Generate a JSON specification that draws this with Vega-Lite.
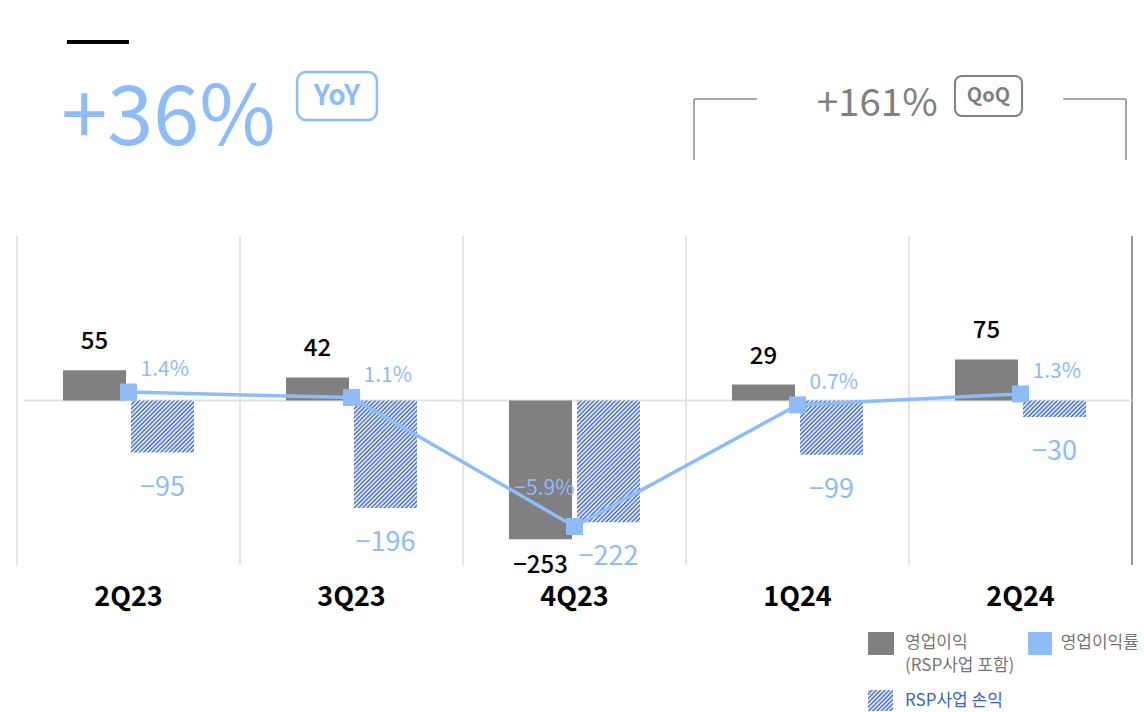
{
"$schema": "https://vega.github.io/schema/vega-lite/v6.json",
"usermeta": {"embedOptions": {"actions": false}},
"width": 1115, "height": 329,
"autosize": {"type": "none"},
"padding": {"left": 17, "top": 236, "right": 12, "bottom": 147},
"background": "white",
"config": {
  "view": {"stroke": null},
  "font": "Noto Sans CJK KR",
  "text": {"font": "Noto Sans CJK KR"},
  "axisX": {"domain": false, "ticks": false, "grid": false, "title": null, "labelFont": "Noto Sans CJK KR", "labelFontSize": 27, "labelFontWeight": "bold", "labelColor": "#000000", "labelPadding": 19, "labelAngle": 0}
},
"datasets": {
  "bars": [
    {"q": "2Q23", "series": "영업이익", "value": 55},
    {"q": "2Q23", "series": "RSP사업 손익", "value": -95},
    {"q": "3Q23", "series": "영업이익", "value": 42},
    {"q": "3Q23", "series": "RSP사업 손익", "value": -196},
    {"q": "4Q23", "series": "영업이익", "value": -253},
    {"q": "4Q23", "series": "RSP사업 손익", "value": -222},
    {"q": "1Q24", "series": "영업이익", "value": 29},
    {"q": "1Q24", "series": "RSP사업 손익", "value": -99},
    {"q": "2Q24", "series": "영업이익", "value": 75},
    {"q": "2Q24", "series": "RSP사업 손익", "value": -30}
  ],
  "margin": [
    {"q": "2Q23", "pct": 0.014},
    {"q": "3Q23", "pct": 0.011},
    {"q": "4Q23", "pct": -0.059},
    {"q": "1Q24", "pct": 0.007},
    {"q": "2Q24", "pct": 0.013}
  ]
},
"layer": [
{"layer": [
  {"data": {"name": "margin"},
   "mark": {"type": "rule", "color": "#dcdcdc", "strokeWidth": 1.5},
   "encoding": {
     "x": {"field": "q", "type": "nominal", "bandPosition": 0, "scale": {"domain": ["2Q23","3Q23","4Q23","1Q24","2Q24"], "paddingInner": 0, "paddingOuter": 0}},
     "y": {"datum": 300, "type": "quantitative", "scale": {"domain": [-300, 300], "nice": false}, "axis": null},
     "y2": {"datum": -300}
   }},
  {"data": {"values": [{}]},
   "mark": {"type": "rule", "color": "#9a9a9a", "strokeWidth": 2},
   "encoding": {
     "x": {"datum": "2Q24", "type": "nominal", "bandPosition": 1},
     "y": {"datum": 300, "type": "quantitative", "axis": null},
     "y2": {"datum": -300}
   }},
  {"data": {"values": [{}]},
   "mark": {"type": "rule", "color": "#e2e2e2", "strokeWidth": 2},
   "encoding": {
     "x": {"datum": "2Q23", "type": "nominal", "bandPosition": 0.031},
     "x2": {"datum": "2Q24", "bandPosition": 1},
     "y": {"datum": 0, "type": "quantitative", "axis": null}
   }},
  {"data": {"name": "bars"},
   "transform": [{"filter": "datum.series === '영업이익'"}],
   "mark": {"type": "bar", "color": "#808080"},
   "encoding": {
     "x": {"field": "q", "type": "nominal"},
     "xOffset": {"field": "series", "type": "nominal", "scale": {"domain": ["영업이익", "RSP사업 손익"], "paddingInner": 0.0735, "paddingOuter": 0.6765}},
     "y": {"field": "value", "type": "quantitative", "axis": null},
     "y2": {"datum": 0}
   }},
  {"data": {"name": "bars"},
   "transform": [{"filter": "datum.series === 'RSP사업 손익'"}],
   "mark": {"type": "bar"},
   "encoding": {
     "x": {"field": "q", "type": "nominal"},
     "xOffset": {"field": "series", "type": "nominal"},
     "y": {"field": "value", "type": "quantitative", "axis": null},
     "y2": {"datum": 0},
     "fill": {
       "condition": [
         {"test": "datum.q === '2Q23'", "value": {"gradient": "linear", "x1": 0, "y1": 0, "x2": 1.743, "y2": 1.441, "stops": [
{"offset":0,"color":"#3a66c8"},{"offset":0.0116,"color":"#fff"},{"offset":0.0233,"color":"#3a66c8"},{"offset":0.0349,"color":"#fff"},{"offset":0.0465,"color":"#3a66c8"},{"offset":0.0581,"color":"#fff"},{"offset":0.0698,"color":"#3a66c8"},{"offset":0.0814,"color":"#fff"},{"offset":0.093,"color":"#3a66c8"},{"offset":0.1047,"color":"#fff"},{"offset":0.1163,"color":"#3a66c8"},{"offset":0.1279,"color":"#fff"},{"offset":0.1395,"color":"#3a66c8"},{"offset":0.1512,"color":"#fff"},{"offset":0.1628,"color":"#3a66c8"},{"offset":0.1744,"color":"#fff"},{"offset":0.186,"color":"#3a66c8"},{"offset":0.1977,"color":"#fff"},{"offset":0.2093,"color":"#3a66c8"},{"offset":0.2209,"color":"#fff"},{"offset":0.2326,"color":"#3a66c8"},{"offset":0.2442,"color":"#fff"},{"offset":0.2558,"color":"#3a66c8"},{"offset":0.2674,"color":"#fff"},{"offset":0.2791,"color":"#3a66c8"},
{"offset":0.2907,"color":"#fff"},{"offset":0.3023,"color":"#3a66c8"},{"offset":0.314,"color":"#fff"},{"offset":0.3256,"color":"#3a66c8"},{"offset":0.3372,"color":"#fff"},{"offset":0.3488,"color":"#3a66c8"},{"offset":0.3605,"color":"#fff"},{"offset":0.3721,"color":"#3a66c8"},{"offset":0.3837,"color":"#fff"},{"offset":0.3953,"color":"#3a66c8"},{"offset":0.407,"color":"#fff"},{"offset":0.4186,"color":"#3a66c8"},{"offset":0.4302,"color":"#fff"},{"offset":0.4419,"color":"#3a66c8"},{"offset":0.4535,"color":"#fff"},{"offset":0.4651,"color":"#3a66c8"},
{"offset":0.4767,"color":"#fff"},{"offset":0.4884,"color":"#3a66c8"},{"offset":0.5,"color":"#fff"},{"offset":0.5116,"color":"#3a66c8"},{"offset":0.5233,"color":"#fff"},{"offset":0.5349,"color":"#3a66c8"},{"offset":0.5465,"color":"#fff"},{"offset":0.5581,"color":"#3a66c8"},{"offset":0.5698,"color":"#fff"},{"offset":0.5814,"color":"#3a66c8"},{"offset":0.593,"color":"#fff"},{"offset":0.6047,"color":"#3a66c8"},{"offset":0.6163,"color":"#fff"},{"offset":0.6279,"color":"#3a66c8"},{"offset":0.6395,"color":"#fff"},{"offset":0.6512,"color":"#3a66c8"}
         ]}},
         {"test": "datum.q === '3Q23'", "value": {"gradient": "linear", "x1": 0, "y1": 0, "x2": 0.751, "y2": 1.2805, "stops": [
{"offset":0,"color":"#3a66c8"},{"offset":0.0116,"color":"#fff"},{"offset":0.0233,"color":"#3a66c8"},{"offset":0.0349,"color":"#fff"},{"offset":0.0465,"color":"#3a66c8"},{"offset":0.0581,"color":"#fff"},{"offset":0.0698,"color":"#3a66c8"},{"offset":0.0814,"color":"#fff"},{"offset":0.093,"color":"#3a66c8"},{"offset":0.1047,"color":"#fff"},{"offset":0.1163,"color":"#3a66c8"},{"offset":0.1279,"color":"#fff"},{"offset":0.1395,"color":"#3a66c8"},{"offset":0.1512,"color":"#fff"},{"offset":0.1628,"color":"#3a66c8"},{"offset":0.1744,"color":"#fff"},{"offset":0.186,"color":"#3a66c8"},{"offset":0.1977,"color":"#fff"},{"offset":0.2093,"color":"#3a66c8"},{"offset":0.2209,"color":"#fff"},{"offset":0.2326,"color":"#3a66c8"},{"offset":0.2442,"color":"#fff"},{"offset":0.2558,"color":"#3a66c8"},{"offset":0.2674,"color":"#fff"},{"offset":0.2791,"color":"#3a66c8"},
{"offset":0.2907,"color":"#fff"},{"offset":0.3023,"color":"#3a66c8"},{"offset":0.314,"color":"#fff"},{"offset":0.3256,"color":"#3a66c8"},{"offset":0.3372,"color":"#fff"},{"offset":0.3488,"color":"#3a66c8"},{"offset":0.3605,"color":"#fff"},{"offset":0.3721,"color":"#3a66c8"},{"offset":0.3837,"color":"#fff"},{"offset":0.3953,"color":"#3a66c8"},{"offset":0.407,"color":"#fff"},{"offset":0.4186,"color":"#3a66c8"},{"offset":0.4302,"color":"#fff"},{"offset":0.4419,"color":"#3a66c8"},{"offset":0.4535,"color":"#fff"},{"offset":0.4651,"color":"#3a66c8"},
{"offset":0.4767,"color":"#fff"},{"offset":0.4884,"color":"#3a66c8"},{"offset":0.5,"color":"#fff"},{"offset":0.5116,"color":"#3a66c8"},{"offset":0.5233,"color":"#fff"},{"offset":0.5349,"color":"#3a66c8"},{"offset":0.5465,"color":"#fff"},{"offset":0.5581,"color":"#3a66c8"},{"offset":0.5698,"color":"#fff"},{"offset":0.5814,"color":"#3a66c8"},{"offset":0.593,"color":"#fff"},{"offset":0.6047,"color":"#3a66c8"},{"offset":0.6163,"color":"#fff"},{"offset":0.6279,"color":"#3a66c8"},{"offset":0.6395,"color":"#fff"},{"offset":0.6512,"color":"#3a66c8"},
{"offset":0.6628,"color":"#fff"},{"offset":0.6744,"color":"#3a66c8"},{"offset":0.686,"color":"#fff"},{"offset":0.6977,"color":"#3a66c8"},{"offset":0.7093,"color":"#fff"},{"offset":0.7209,"color":"#3a66c8"},{"offset":0.7326,"color":"#fff"},{"offset":0.7442,"color":"#3a66c8"},{"offset":0.7558,"color":"#fff"},{"offset":0.7674,"color":"#3a66c8"},{"offset":0.7791,"color":"#fff"},{"offset":0.7907,"color":"#3a66c8"},{"offset":0.8023,"color":"#fff"},{"offset":0.814,"color":"#3a66c8"},{"offset":0.8256,"color":"#fff"},{"offset":0.8372,"color":"#3a66c8"},{"offset":0.8488,"color":"#fff"},{"offset":0.8605,"color":"#3a66c8"},{"offset":0.8721,"color":"#fff"},{"offset":0.8837,"color":"#3a66c8"},{"offset":0.8953,"color":"#fff"},{"offset":0.907,"color":"#3a66c8"},{"offset":0.9186,"color":"#fff"},{"offset":0.9302,"color":"#3a66c8"},{"offset":0.9419,"color":"#fff"},{"offset":0.9535,"color":"#3a66c8"}
         ]}},
         {"test": "datum.q === '4Q23'", "value": {"gradient": "linear", "x1": 0, "y1": 0, "x2": 0.62, "y2": 1.198, "stops": [
{"offset":0,"color":"#3a66c8"},{"offset":0.0116,"color":"#fff"},{"offset":0.0233,"color":"#3a66c8"},{"offset":0.0349,"color":"#fff"},{"offset":0.0465,"color":"#3a66c8"},{"offset":0.0581,"color":"#fff"},{"offset":0.0698,"color":"#3a66c8"},{"offset":0.0814,"color":"#fff"},{"offset":0.093,"color":"#3a66c8"},{"offset":0.1047,"color":"#fff"},{"offset":0.1163,"color":"#3a66c8"},{"offset":0.1279,"color":"#fff"},{"offset":0.1395,"color":"#3a66c8"},{"offset":0.1512,"color":"#fff"},{"offset":0.1628,"color":"#3a66c8"},{"offset":0.1744,"color":"#fff"},{"offset":0.186,"color":"#3a66c8"},{"offset":0.1977,"color":"#fff"},{"offset":0.2093,"color":"#3a66c8"},{"offset":0.2209,"color":"#fff"},{"offset":0.2326,"color":"#3a66c8"},{"offset":0.2442,"color":"#fff"},{"offset":0.2558,"color":"#3a66c8"},{"offset":0.2674,"color":"#fff"},{"offset":0.2791,"color":"#3a66c8"},
{"offset":0.2907,"color":"#fff"},{"offset":0.3023,"color":"#3a66c8"},{"offset":0.314,"color":"#fff"},{"offset":0.3256,"color":"#3a66c8"},{"offset":0.3372,"color":"#fff"},{"offset":0.3488,"color":"#3a66c8"},{"offset":0.3605,"color":"#fff"},{"offset":0.3721,"color":"#3a66c8"},{"offset":0.3837,"color":"#fff"},{"offset":0.3953,"color":"#3a66c8"},{"offset":0.407,"color":"#fff"},{"offset":0.4186,"color":"#3a66c8"},{"offset":0.4302,"color":"#fff"},{"offset":0.4419,"color":"#3a66c8"},{"offset":0.4535,"color":"#fff"},{"offset":0.4651,"color":"#3a66c8"},
{"offset":0.4767,"color":"#fff"},{"offset":0.4884,"color":"#3a66c8"},{"offset":0.5,"color":"#fff"},{"offset":0.5116,"color":"#3a66c8"},{"offset":0.5233,"color":"#fff"},{"offset":0.5349,"color":"#3a66c8"},{"offset":0.5465,"color":"#fff"},{"offset":0.5581,"color":"#3a66c8"},{"offset":0.5698,"color":"#fff"},{"offset":0.5814,"color":"#3a66c8"},{"offset":0.593,"color":"#fff"},{"offset":0.6047,"color":"#3a66c8"},{"offset":0.6163,"color":"#fff"},{"offset":0.6279,"color":"#3a66c8"},{"offset":0.6395,"color":"#fff"},{"offset":0.6512,"color":"#3a66c8"},
{"offset":0.6628,"color":"#fff"},{"offset":0.6744,"color":"#3a66c8"},{"offset":0.686,"color":"#fff"},{"offset":0.6977,"color":"#3a66c8"},{"offset":0.7093,"color":"#fff"},{"offset":0.7209,"color":"#3a66c8"},{"offset":0.7326,"color":"#fff"},{"offset":0.7442,"color":"#3a66c8"},{"offset":0.7558,"color":"#fff"},{"offset":0.7674,"color":"#3a66c8"},{"offset":0.7791,"color":"#fff"},{"offset":0.7907,"color":"#3a66c8"},{"offset":0.8023,"color":"#fff"},{"offset":0.814,"color":"#3a66c8"},{"offset":0.8256,"color":"#fff"},{"offset":0.8372,"color":"#3a66c8"},{"offset":0.8488,"color":"#fff"},{"offset":0.8605,"color":"#3a66c8"},{"offset":0.8721,"color":"#fff"},{"offset":0.8837,"color":"#3a66c8"},{"offset":0.8953,"color":"#fff"},{"offset":0.907,"color":"#3a66c8"},{"offset":0.9186,"color":"#fff"},{"offset":0.9302,"color":"#3a66c8"},{"offset":0.9419,"color":"#fff"},{"offset":0.9535,"color":"#3a66c8"},
{"offset":0.9651,"color":"#fff"},{"offset":0.9767,"color":"#3a66c8"},{"offset":0.9884,"color":"#fff"},{"offset":1,"color":"#3a66c8"}
         ]}},
         {"test": "datum.q === '1Q24'", "value": {"gradient": "linear", "x1": 0, "y1": 0, "x2": 1.684, "y2": 1.451, "stops": [
{"offset":0,"color":"#3a66c8"},{"offset":0.0116,"color":"#fff"},{"offset":0.0233,"color":"#3a66c8"},{"offset":0.0349,"color":"#fff"},{"offset":0.0465,"color":"#3a66c8"},{"offset":0.0581,"color":"#fff"},{"offset":0.0698,"color":"#3a66c8"},{"offset":0.0814,"color":"#fff"},{"offset":0.093,"color":"#3a66c8"},{"offset":0.1047,"color":"#fff"},{"offset":0.1163,"color":"#3a66c8"},{"offset":0.1279,"color":"#fff"},{"offset":0.1395,"color":"#3a66c8"},{"offset":0.1512,"color":"#fff"},{"offset":0.1628,"color":"#3a66c8"},{"offset":0.1744,"color":"#fff"},{"offset":0.186,"color":"#3a66c8"},{"offset":0.1977,"color":"#fff"},{"offset":0.2093,"color":"#3a66c8"},{"offset":0.2209,"color":"#fff"},{"offset":0.2326,"color":"#3a66c8"},{"offset":0.2442,"color":"#fff"},{"offset":0.2558,"color":"#3a66c8"},{"offset":0.2674,"color":"#fff"},{"offset":0.2791,"color":"#3a66c8"},
{"offset":0.2907,"color":"#fff"},{"offset":0.3023,"color":"#3a66c8"},{"offset":0.314,"color":"#fff"},{"offset":0.3256,"color":"#3a66c8"},{"offset":0.3372,"color":"#fff"},{"offset":0.3488,"color":"#3a66c8"},{"offset":0.3605,"color":"#fff"},{"offset":0.3721,"color":"#3a66c8"},{"offset":0.3837,"color":"#fff"},{"offset":0.3953,"color":"#3a66c8"},{"offset":0.407,"color":"#fff"},{"offset":0.4186,"color":"#3a66c8"},{"offset":0.4302,"color":"#fff"},{"offset":0.4419,"color":"#3a66c8"},{"offset":0.4535,"color":"#fff"},{"offset":0.4651,"color":"#3a66c8"},
{"offset":0.4767,"color":"#fff"},{"offset":0.4884,"color":"#3a66c8"},{"offset":0.5,"color":"#fff"},{"offset":0.5116,"color":"#3a66c8"},{"offset":0.5233,"color":"#fff"},{"offset":0.5349,"color":"#3a66c8"},{"offset":0.5465,"color":"#fff"},{"offset":0.5581,"color":"#3a66c8"},{"offset":0.5698,"color":"#fff"},{"offset":0.5814,"color":"#3a66c8"},{"offset":0.593,"color":"#fff"},{"offset":0.6047,"color":"#3a66c8"},{"offset":0.6163,"color":"#fff"},{"offset":0.6279,"color":"#3a66c8"},{"offset":0.6395,"color":"#fff"},{"offset":0.6512,"color":"#3a66c8"}
         ]}}
       ],
       "value": {"gradient": "linear", "x1": 0, "y1": 0, "x2": 2.748, "y2": 0.717, "stops": [
{"offset":0,"color":"#3a66c8"},{"offset":0.0116,"color":"#fff"},{"offset":0.0233,"color":"#3a66c8"},{"offset":0.0349,"color":"#fff"},{"offset":0.0465,"color":"#3a66c8"},{"offset":0.0581,"color":"#fff"},{"offset":0.0698,"color":"#3a66c8"},{"offset":0.0814,"color":"#fff"},{"offset":0.093,"color":"#3a66c8"},{"offset":0.1047,"color":"#fff"},{"offset":0.1163,"color":"#3a66c8"},{"offset":0.1279,"color":"#fff"},{"offset":0.1395,"color":"#3a66c8"},{"offset":0.1512,"color":"#fff"},{"offset":0.1628,"color":"#3a66c8"},{"offset":0.1744,"color":"#fff"},{"offset":0.186,"color":"#3a66c8"},{"offset":0.1977,"color":"#fff"},{"offset":0.2093,"color":"#3a66c8"},{"offset":0.2209,"color":"#fff"},{"offset":0.2326,"color":"#3a66c8"},{"offset":0.2442,"color":"#fff"},{"offset":0.2558,"color":"#3a66c8"},{"offset":0.2674,"color":"#fff"},{"offset":0.2791,"color":"#3a66c8"},
{"offset":0.2907,"color":"#fff"},{"offset":0.3023,"color":"#3a66c8"},{"offset":0.314,"color":"#fff"},{"offset":0.3256,"color":"#3a66c8"},{"offset":0.3372,"color":"#fff"},{"offset":0.3488,"color":"#3a66c8"},{"offset":0.3605,"color":"#fff"},{"offset":0.3721,"color":"#3a66c8"},{"offset":0.3837,"color":"#fff"},{"offset":0.3953,"color":"#3a66c8"},{"offset":0.407,"color":"#fff"},{"offset":0.4186,"color":"#3a66c8"},{"offset":0.4302,"color":"#fff"},{"offset":0.4419,"color":"#3a66c8"},{"offset":0.4535,"color":"#fff"},{"offset":0.4651,"color":"#3a66c8"}
       ]}
     }
   }},
  {"data": {"name": "bars"},
   "transform": [{"filter": "datum.series === '영업이익' && datum.value > 0"}],
   "mark": {"type": "text", "baseline": "alphabetic", "align": "center", "dy": -21, "fontSize": 24, "fontWeight": 500, "color": "#000000"},
   "encoding": {
     "x": {"field": "q", "type": "nominal"},
     "xOffset": {"field": "series", "type": "nominal"},
     "y": {"field": "value", "type": "quantitative", "axis": null},
     "text": {"field": "value", "type": "quantitative", "format": "d"}
   }},
  {"data": {"name": "bars"},
   "transform": [{"filter": "datum.series === '영업이익' && datum.value < 0"}],
   "mark": {"type": "text", "baseline": "alphabetic", "align": "center", "dy": 34, "fontSize": 24, "fontWeight": 500, "color": "#000000"},
   "encoding": {
     "x": {"field": "q", "type": "nominal"},
     "xOffset": {"field": "series", "type": "nominal"},
     "y": {"field": "value", "type": "quantitative", "axis": null},
     "text": {"field": "value", "type": "quantitative", "format": "d"}
   }},
  {"data": {"name": "bars"},
   "transform": [{"filter": "datum.series === 'RSP사업 손익'"}],
   "mark": {"type": "text", "baseline": "alphabetic", "align": "center", "dy": 43, "fontSize": 27, "fontWeight": 400, "color": "#8dbcf9"},
   "encoding": {
     "x": {"field": "q", "type": "nominal"},
     "xOffset": {"field": "series", "type": "nominal"},
     "y": {"field": "value", "type": "quantitative", "axis": null},
     "text": {"field": "value", "type": "quantitative", "format": "d"}
   }},
  {"data": {"values": [{}]},
   "mark": {"type": "rule", "color": "#000000", "strokeWidth": 4},
   "encoding": {
     "x": {"datum": "2Q23", "type": "nominal", "bandPosition": 0.224},
     "x2": {"datum": "2Q23", "bandPosition": 0.502},
     "y": {"datum": 653.8, "type": "quantitative", "axis": null}
   }},
  {"data": {"values": [{}]},
   "mark": {"type": "text", "text": "+36%", "align": "left", "baseline": "alphabetic", "fontSize": 83, "fontWeight": 400, "color": "#8dbcf9"},
   "encoding": {
     "x": {"datum": "2Q23", "type": "nominal", "bandPosition": 0.198},
     "y": {"datum": 466, "type": "quantitative", "axis": null}
   }},
  {"data": {"values": [{}]},
   "mark": {"type": "rect", "fill": "#ffffff", "stroke": "#8dbcf9", "strokeWidth": 2.5, "cornerRadius": 9},
   "encoding": {
     "x": {"datum": "3Q23", "type": "nominal", "bandPosition": 0.256},
     "x2": {"datum": "3Q23", "bandPosition": 0.614},
     "y": {"datum": 599, "type": "quantitative", "axis": null},
     "y2": {"datum": 511.5}
   }},
  {"data": {"values": [{}]},
   "mark": {"type": "text", "text": "YoY", "align": "center", "baseline": "middle", "fontSize": 28, "fontWeight": "bold", "color": "#8dbcf9"},
   "encoding": {
     "x": {"datum": "3Q23", "type": "nominal", "bandPosition": 0.435},
     "y": {"datum": 553, "type": "quantitative", "axis": null}
   }},
  {"data": {"values": [{}]},
   "mark": {"type": "rule", "color": "#8c8c8c", "strokeWidth": 1.5},
   "encoding": {
     "x": {"datum": "1Q24", "type": "nominal", "bandPosition": 0.036},
     "x2": {"datum": "1Q24", "bandPosition": 0.318},
     "y": {"datum": 549.9, "type": "quantitative", "axis": null}
   }},
  {"data": {"values": [{}]},
   "mark": {"type": "rule", "color": "#8c8c8c", "strokeWidth": 1.5},
   "encoding": {
     "x": {"datum": "1Q24", "type": "nominal", "bandPosition": 0.036},
     "y": {"datum": 549.9, "type": "quantitative", "axis": null},
     "y2": {"datum": 438.6}
   }},
  {"data": {"values": [{}]},
   "mark": {"type": "rule", "color": "#8c8c8c", "strokeWidth": 1.5},
   "encoding": {
     "x": {"datum": "2Q24", "type": "nominal", "bandPosition": 0.691},
     "x2": {"datum": "2Q24", "bandPosition": 0.973},
     "y": {"datum": 549.9, "type": "quantitative", "axis": null}
   }},
  {"data": {"values": [{}]},
   "mark": {"type": "rule", "color": "#8c8c8c", "strokeWidth": 1.5},
   "encoding": {
     "x": {"datum": "2Q24", "type": "nominal", "bandPosition": 0.973},
     "y": {"datum": 549.9, "type": "quantitative", "axis": null},
     "y2": {"datum": 438.6}
   }},
  {"data": {"values": [{}]},
   "mark": {"type": "text", "text": "+161%", "align": "left", "baseline": "alphabetic", "fontSize": 38.5, "fontWeight": 400, "color": "#808080"},
   "encoding": {
     "x": {"datum": "1Q24", "type": "nominal", "bandPosition": 0.586},
     "y": {"datum": 518, "type": "quantitative", "axis": null}
   }},
  {"data": {"values": [{}]},
   "mark": {"type": "rect", "fill": "#ffffff", "stroke": "#808080", "strokeWidth": 2, "cornerRadius": 7},
   "encoding": {
     "x": {"datum": "2Q24", "type": "nominal", "bandPosition": 0.206},
     "x2": {"datum": "2Q24", "bandPosition": 0.507},
     "y": {"datum": 592, "type": "quantitative", "axis": null},
     "y2": {"datum": 518.8}
   }},
  {"data": {"values": [{}]},
   "mark": {"type": "text", "text": "QoQ", "align": "center", "baseline": "middle", "fontSize": 20, "fontWeight": "bold", "color": "#808080"},
   "encoding": {
     "x": {"datum": "2Q24", "type": "nominal", "bandPosition": 0.356},
     "y": {"datum": 555, "type": "quantitative", "axis": null}
   }},
  {"data": {"values": [{}]},
   "mark": {"type": "rect", "fill": "#808080"},
   "encoding": {
     "x": {"datum": "1Q24", "type": "nominal", "bandPosition": 0.816},
     "x2": {"datum": "1Q24", "bandPosition": 0.933},
     "y": {"datum": -422.2, "type": "quantitative", "axis": null},
     "y2": {"datum": -464.1}
   }},
  {"data": {"values": [{}]},
   "mark": {"type": "rect", "fill": "#8dbcf9"},
   "encoding": {
     "x": {"datum": "2Q24", "type": "nominal", "bandPosition": 0.534},
     "x2": {"datum": "2Q24", "bandPosition": 0.641},
     "y": {"datum": -422.2, "type": "quantitative", "axis": null},
     "y2": {"datum": -464.1}
   }},
  {"data": {"values": [{}]},
   "mark": {"type": "rect", "fill": {"gradient": "linear", "x1": 0, "y1": 0, "x2": 4.336, "y2": 3.642, "stops": [
{"offset":0,"color":"#3a66c8"},{"offset":0.0116,"color":"#fff"},{"offset":0.0233,"color":"#3a66c8"},{"offset":0.0349,"color":"#fff"},{"offset":0.0465,"color":"#3a66c8"},{"offset":0.0581,"color":"#fff"},{"offset":0.0698,"color":"#3a66c8"},{"offset":0.0814,"color":"#fff"},{"offset":0.093,"color":"#3a66c8"},{"offset":0.1047,"color":"#fff"},{"offset":0.1163,"color":"#3a66c8"},{"offset":0.1279,"color":"#fff"},{"offset":0.1395,"color":"#3a66c8"},{"offset":0.1512,"color":"#fff"},{"offset":0.1628,"color":"#3a66c8"},{"offset":0.1744,"color":"#fff"},{"offset":0.186,"color":"#3a66c8"},{"offset":0.1977,"color":"#fff"},{"offset":0.2093,"color":"#3a66c8"},{"offset":0.2209,"color":"#fff"},{"offset":0.2326,"color":"#3a66c8"},{"offset":0.2442,"color":"#fff"},{"offset":0.2558,"color":"#3a66c8"},{"offset":0.2674,"color":"#fff"},{"offset":0.2791,"color":"#3a66c8"}
   ]}},
   "encoding": {
     "x": {"datum": "1Q24", "type": "nominal", "bandPosition": 0.816},
     "x2": {"datum": "1Q24", "bandPosition": 0.928},
     "y": {"datum": -528, "type": "quantitative", "axis": null},
     "y2": {"datum": -566.3}
   }},
  {"data": {"values": [{}]},
   "mark": {"type": "text", "text": "영업이익", "align": "left", "baseline": "middle", "fontSize": 17, "color": "#777777"},
   "encoding": {
     "x": {"datum": "1Q24", "type": "nominal", "bandPosition": 0.982},
     "y": {"datum": -442.3, "type": "quantitative", "axis": null}
   }},
  {"data": {"values": [{}]},
   "mark": {"type": "text", "text": "(RSP사업 포함)", "align": "left", "baseline": "middle", "fontSize": 17, "color": "#777777"},
   "encoding": {
     "x": {"datum": "1Q24", "type": "nominal", "bandPosition": 0.982},
     "y": {"datum": -484.2, "type": "quantitative", "axis": null}
   }},
  {"data": {"values": [{}]},
   "mark": {"type": "text", "text": "영업이익률", "align": "left", "baseline": "middle", "fontSize": 17, "color": "#777777"},
   "encoding": {
     "x": {"datum": "2Q24", "type": "nominal", "bandPosition": 0.68},
     "y": {"datum": -442.3, "type": "quantitative", "axis": null}
   }},
  {"data": {"values": [{}]},
   "mark": {"type": "text", "text": "RSP사업 손익", "align": "left", "baseline": "middle", "fontSize": 17, "color": "#3a66c8"},
   "encoding": {
     "x": {"datum": "1Q24", "type": "nominal", "bandPosition": 0.982},
     "y": {"datum": -548, "type": "quantitative", "axis": null}
   }}
]},
{"layer": [
  {"data": {"name": "margin"},
   "mark": {"type": "line", "color": "#8dbcf9", "strokeWidth": 3.5},
   "encoding": {
     "x": {"field": "q", "type": "nominal"},
     "y": {"field": "pct", "type": "quantitative", "scale": {"domain": [-0.0799, 0.0987], "nice": false, "zero": false}, "axis": null}
   }},
  {"data": {"name": "margin"},
   "mark": {"type": "point", "shape": "square", "filled": true, "size": 290, "color": "#8dbcf9", "opacity": 1},
   "encoding": {
     "x": {"field": "q", "type": "nominal"},
     "y": {"field": "pct", "type": "quantitative", "axis": null}
   }},
  {"data": {"name": "margin"},
   "transform": [{"filter": "datum.pct > 0"}],
   "mark": {"type": "text", "align": "left", "baseline": "middle", "dx": 12, "dy": -22, "fontSize": 21, "color": "#8dbcf9"},
   "encoding": {
     "x": {"field": "q", "type": "nominal"},
     "y": {"field": "pct", "type": "quantitative", "axis": null},
     "text": {"field": "pct", "type": "quantitative", "format": ".1%"}
   }},
  {"data": {"name": "margin"},
   "transform": [{"filter": "datum.pct < 0"}],
   "mark": {"type": "text", "align": "right", "baseline": "middle", "dx": 0, "dy": -38, "fontSize": 21, "color": "#8dbcf9"},
   "encoding": {
     "x": {"field": "q", "type": "nominal"},
     "y": {"field": "pct", "type": "quantitative", "axis": null},
     "text": {"field": "pct", "type": "quantitative", "format": ".1%"}
   }}
]}
],
"resolve": {"scale": {"y": "independent"}}
}
